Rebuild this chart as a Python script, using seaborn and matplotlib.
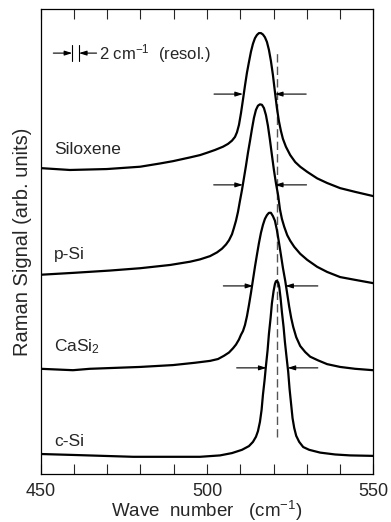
import numpy as np
import pandas as pd
import matplotlib
matplotlib.use("Agg")
import matplotlib.pyplot as plt
import seaborn as sns

# Raman spectra (wave number in cm^-1, signal in arbitrary units, curves offset vertically)
csi_w = [450.0, 459.7, 477.8, 497.9, 503.9, 507.5, 510.5, 512.6, 513.8, 514.7, 515.3, 515.9,
         516.4, 516.8, 517.3, 517.7, 518.2, 518.6, 519.1, 519.5, 520.0, 520.4, 520.7, 521.0,
         521.4, 521.7, 522.1, 522.5, 523.0, 523.4, 523.9, 524.4, 524.8, 525.3, 525.7, 526.2,
         526.8, 527.7, 528.9, 530.7, 534.0, 538.5, 543.0, 549.9]
csi_s = [4.4, 4.2, 3.8, 3.8, 4.1, 4.6, 5.3, 6.1, 7.0, 8.1, 9.3, 11.3,
         13.9, 17.1, 20.3, 23.3, 26.7, 30.2, 33.6, 36.8, 39.4, 40.9, 41.5, 41.6,
         41.2, 40.3, 37.9, 34.9, 31.7, 28.5, 25.2, 22.0, 18.4, 14.9, 12.1, 10.0,
         8.3, 7.0, 5.9, 5.3, 4.7, 4.3, 4.1, 4.0]

casi2_w = [450.0, 459.7, 464.8, 479.9, 489.8, 496.4, 500.9, 503.3, 505.1, 506.6, 507.8, 508.7,
           509.6, 510.2, 510.8, 511.4, 512.0, 512.6, 513.2, 513.8, 514.4, 515.0, 515.6, 516.2,
           516.8, 517.4, 518.0, 518.6, 519.2, 519.8, 520.4, 521.0, 521.6, 522.2, 522.8, 523.5,
           524.1, 524.7, 525.3, 525.9, 526.8, 528.0, 529.5, 531.0, 533.4, 536.1, 540.0, 544.5,
           549.9]
casi2_s = [22.7, 22.4, 22.7, 23.1, 23.5, 24.0, 24.4, 24.8, 25.5, 26.2, 27.1, 27.9,
           29.0, 30.0, 30.8, 32.1, 34.0, 36.4, 39.0, 41.8, 44.6, 47.2, 49.7, 51.9,
           53.6, 54.9, 55.7, 56.2, 56.2, 55.5, 54.5, 52.5, 49.9, 47.2, 44.4, 41.6,
           38.8, 36.0, 33.6, 31.7, 29.5, 27.6, 26.3, 25.3, 24.5, 23.7, 23.1, 22.7,
           22.4]

psi_w = [450.0, 459.7, 470.8, 479.9, 488.9, 494.9, 497.9, 500.9, 503.0, 504.5, 505.7, 506.6,
         507.5, 508.1, 508.7, 509.3, 509.9, 510.5, 511.1, 511.7, 512.3, 512.9, 513.5, 514.1,
         514.7, 515.3, 515.9, 516.5, 517.1, 517.7, 518.3, 518.9, 519.5, 520.1, 520.7, 521.4,
         521.9, 522.5, 523.2, 524.1, 525.0, 526.2, 528.0, 530.1, 533.1, 536.1, 540.0, 544.5,
         549.9]
psi_s = [42.9, 43.3, 43.8, 44.3, 45.0, 45.7, 46.2, 46.9, 47.7, 48.5, 49.4, 50.3,
         51.6, 53.0, 54.5, 56.4, 58.8, 61.1, 63.7, 66.3, 69.1, 71.6, 74.2, 76.6,
         78.3, 79.2, 79.5, 79.4, 78.7, 77.2, 74.9, 71.9, 68.6, 65.4, 62.6, 59.8,
         57.0, 54.9, 53.2, 51.4, 50.2, 48.9, 47.4, 46.1, 44.6, 43.5, 42.4, 41.8,
         41.1]

silox_w = [450.0, 458.8, 469.9, 479.9, 485.9, 489.8, 494.9, 497.9, 500.0, 502.4, 504.8, 506.3,
           507.5, 508.4, 509.0, 509.6, 510.2, 510.8, 511.4, 512.0, 512.6, 513.2, 513.8, 514.4,
           515.0, 515.6, 516.2, 516.8, 517.4, 518.0, 518.6, 519.2, 519.8, 520.4, 521.0, 521.6,
           522.2, 522.8, 523.7, 525.0, 526.5, 528.0, 530.1, 533.1, 536.1, 540.0, 544.5, 549.9]
silox_s = [65.8, 65.4, 65.6, 66.1, 66.8, 67.3, 68.1, 68.6, 69.1, 69.7, 70.4, 71.0,
           71.7, 72.5, 73.5, 75.1, 77.6, 80.5, 83.5, 86.3, 88.6, 90.8, 92.5, 93.7,
           94.4, 94.8, 94.8, 94.5, 93.9, 92.9, 91.2, 88.8, 85.8, 82.2, 78.7, 75.9,
           73.8, 72.1, 70.4, 68.6, 67.1, 66.1, 65.0, 63.6, 62.6, 61.5, 60.7, 59.8]

samples = ["c-Si", "CaSi$_{\\mathregular{2}}$", "p-Si", "Siloxene"]
label_level = [7.0, 27.4, 47.2, 69.7]

# half-maximum markers: level, left arrow (tail, tip), right arrow (tip, tail)
fwhm_level = [22.9, 40.5, 62.2, 81.7]
fwhm_left_tail = [508.9, 504.9, 502.0, 502.1]
fwhm_left_tip = [517.9, 513.9, 510.8, 510.8]
fwhm_right_tip = [524.2, 523.5, 520.4, 520.4]
fwhm_right_tail = [533.3, 533.3, 529.9, 529.8]

csi_peak = 520.9
resol_bars = [459.5, 461.5]

frames = []
for name, w, s in [("c-Si", csi_w, csi_s), ("CaSi2", casi2_w, casi2_s),
                   ("p-Si", psi_w, psi_s), ("Siloxene", silox_w, silox_s)]:
    frames.append(pd.DataFrame({"wave": w, "signal": s, "sample": name}))
spectra = pd.concat(frames, ignore_index=True)

sns.set_style("white")
plt.rcParams["font.family"] = ["Liberation Sans", "DejaVu Sans"]
plt.rcParams["mathtext.default"] = "regular"

fig = plt.figure(figsize=(3.91, 5.22), dpi=100)
ax = fig.add_axes([0.104, 0.091, 0.851, 0.892])

sns.lineplot(data=spectra, x="wave", y="signal", units="sample", estimator=None,
             sort=False, color="black", linewidth=1.6, ax=ax, legend=False)
for ln in ax.lines:
    ln.set_solid_joinstyle("round")
    ln.set_solid_capstyle("round")

# c-Si reference position
ax.plot([csi_peak, csi_peak], [8.1, 91.2], color="#555555", lw=1.0,
        dashes=(6, 3), zorder=1)

arrow_kw = dict(arrowstyle="-|>,head_length=0.45,head_width=0.14",
                lw=0.8, color="black", shrinkA=0, shrinkB=0)
for lvl, lt, lp, rp, rt in zip(fwhm_level, fwhm_left_tail, fwhm_left_tip,
                               fwhm_right_tip, fwhm_right_tail):
    ax.annotate("", xy=(lp, lvl), xytext=(lt, lvl), arrowprops=arrow_kw)
    ax.annotate("", xy=(rp, lvl), xytext=(rt, lvl), arrowprops=arrow_kw)

for name, lvl in zip(samples, label_level):
    ax.text(454.0, lvl, name, fontsize=12.5, va="center", ha="left")

# spectral resolution marker
res_level = 90.5
for b in resol_bars:
    ax.plot([b, b], [88.9, 92.2], color="black", lw=0.8)
ax.annotate("", xy=(resol_bars[0], res_level), xytext=(453.8, res_level), arrowprops=arrow_kw)
ax.annotate("", xy=(resol_bars[1], res_level), xytext=(466.8, res_level), arrowprops=arrow_kw)
ax.text(467.6, res_level, "2 cm$^{-1}$  (resol.)", fontsize=12, va="center", ha="left")

ax.set_xlim(450, 550)
ax.set_ylim(0, 100)
ticks = np.arange(450, 551, 10)
ax.set_xticks(ticks)
ax.set_xticklabels([str(t) if t % 50 == 0 else "" for t in ticks])
ax.set_yticks([])
ax.tick_params(axis="x", direction="in", length=7, width=0.8, top=True, bottom=True,
               labelsize=13, pad=6)
for sp in ax.spines.values():
    sp.set_linewidth(0.9)
    sp.set_color("black")

ax.set_xlabel("Wave  number   (cm$^{-1}$)", fontsize=13.5, labelpad=-1)
ax.set_ylabel("Raman Signal (arb. units)", fontsize=14.5, labelpad=6)

fig.savefig("out.png", dpi=100)
